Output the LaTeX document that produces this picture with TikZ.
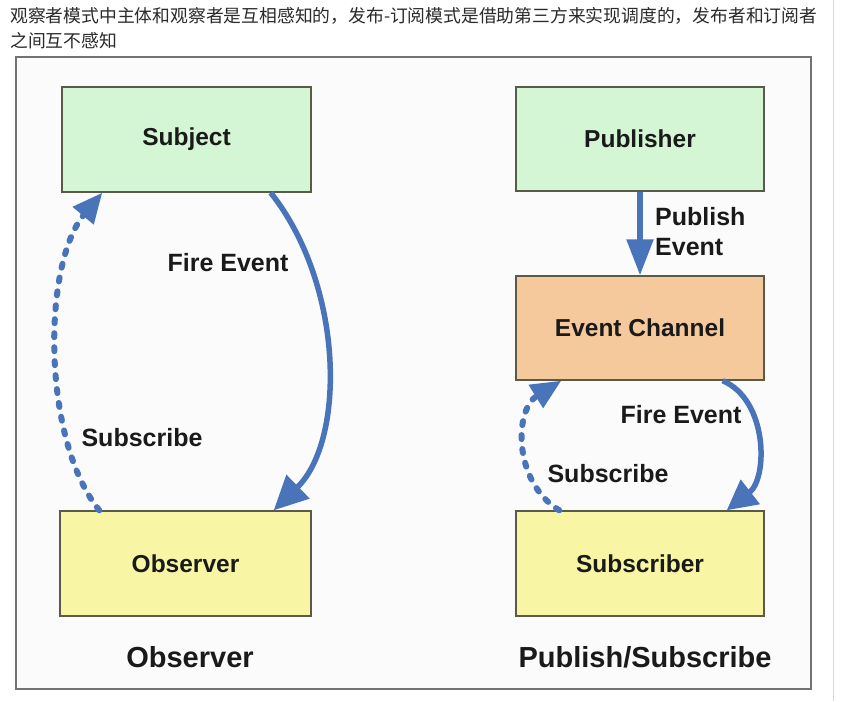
\documentclass[tikz,border=0pt]{standalone}
\usepackage{fontspec}
\setmainfont{Liberation Sans}
\newfontfamily\cjk{Noto Sans CJK SC}
\usetikzlibrary{arrows.meta}
\definecolor{arrowblue}{HTML}{4A74BA}
\definecolor{greenfill}{HTML}{D4F6D4}
\definecolor{yellowfill}{HTML}{F8F6A4}
\definecolor{orangefill}{HTML}{F6C99C}
\definecolor{boxline}{HTML}{5A5A4A}
\definecolor{headtext}{HTML}{2A2A2A}
\definecolor{labeltext}{HTML}{1A1A1A}
\tikzset{
  box/.style={draw=boxline, line width=1.4pt, minimum width=248pt, minimum height=104pt,
    inner sep=0pt, font=\fontsize{24.5}{28}\selectfont\bfseries, text=labeltext},
  lbl/.style={font=\fontsize{25}{30}\selectfont\bfseries, text=labeltext, inner sep=0pt},
  title/.style={font=\fontsize{29}{32}\selectfont\bfseries, text=labeltext, inner sep=0pt},
  head/.style={font=\cjk\fontsize{17.8}{20}\selectfont, text=headtext, inner sep=0pt, anchor=west},
  flow/.style={draw=arrowblue, line width=5.5pt, -{Triangle[length=34pt,width=32pt]}},
  subs/.style={draw=arrowblue, line width=6pt, line cap=round, dash pattern=on 4pt off 10pt,
    -{Triangle[length=30pt,width=26pt]}}
}
\begin{document}
\begin{tikzpicture}[x=1pt,y=-1pt]
\useasboundingbox (0,0) rectangle (853,701);
\fill[white] (0,0) rectangle (853,701);
\draw[draw=black!15, line width=1pt] (833,0) -- (833,701);
\node[head] (h1) at (10,16) {观察者模式中主体和观察者是互相感知的，发布-订阅模式是借助第三方来实现调度的，发布者和订阅者};
\node[head] (h2) at (10,41) {之间互不感知};
\draw[draw=black!55, fill=black!1.5, line width=2pt] (16,57) rectangle (811,689);

\node[box, fill=greenfill, minimum width=249pt, minimum height=105pt] (subject) at (186.5,139.5) {Subject};
\node[box, fill=yellowfill, minimum width=251pt, minimum height=105pt] (observer) at (185.5,563.5) {Observer};
\node[box, fill=greenfill] (publisher) at (640,139) {Publisher};
\node[box, fill=orangefill] (channel) at (640,328) {Event Channel};
\node[box, fill=yellowfill, minimum height=105pt] (subscriber) at (640,563.5) {Subscriber};

\node[title] (t1) at (190,657) {Observer};
\node[title] (t2) at (645,657) {Publish/Subscribe};

% left: fire event
\coordinate (fe1) at ([xshift=-41pt]subject.south east);
\coordinate (fe2) at ([xshift=-38pt]observer.north east);
\draw[flow] (fe1) .. controls (344,285) and (346,440) .. (fe2);
\node[lbl] (lfire) at (228,263) {Fire Event};

% left: subscribe
\coordinate (sb1) at ([xshift=40pt]observer.north west);
\coordinate (sb2) at ([xshift=41pt]subject.south west);
\draw[subs] (sb1) .. controls (42,440) and (42,265) .. (sb2);
\node[lbl] (lsub) at (142,438) {Subscribe};

% right: publish
\draw[flow, -{Triangle[length=36pt,width=26pt]}] (publisher.south) -- (channel.north);
\node[lbl, anchor=west, align=left] (pub) at (655,231.5) {Publish\\Event};

% right: fire event
\coordinate (rf1) at ([xshift=-42pt]channel.south east);
\coordinate (rf2) at ([xshift=-38pt]subscriber.north east);
\draw[flow, -{Triangle[length=30pt,width=30pt]}] (rf1) .. controls (768,400) and (768,478) .. (rf2);
\node[lbl] (rfire) at (681,415) {Fire Event};

% right: subscribe
\coordinate (rs1) at ([xshift=44pt]subscriber.north west);
\coordinate (rs2) at ([xshift=46pt]channel.south west);
\draw[subs, -{Triangle[length=30pt,width=26pt]}] (rs1) .. controls (513,482) and (514,410) .. (rs2);
\node[lbl] (rsub) at (608,474) {Subscribe};
\end{tikzpicture}
\end{document}
